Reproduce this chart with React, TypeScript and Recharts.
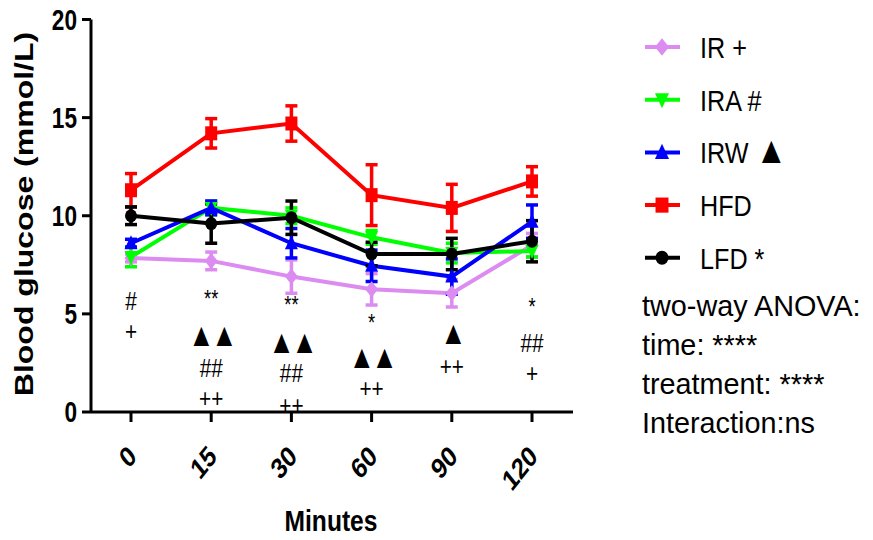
import { LineChart, Line, XAxis, YAxis, ErrorBar, Legend, ReferenceDot } from "recharts";

const MINUTES = ["0", "15", "30", "60", "90", "120"];

const IR = [7.85, 7.7, 6.9, 6.25, 6.05, 8.5];
const IR_SEM = [0.2, 0.45, 0.85, 0.8, 0.7, 0.6];
const IRA = [7.9, 10.4, 10.0, 8.9, 8.1, 8.2];
const IRA_SEM = [0.5, 0.35, 0.4, 0.35, 0.5, 0.3];
const IRW = [8.6, 10.4, 8.6, 7.45, 6.9, 9.7];
const IRW_SEM = [0.2, 0.35, 0.75, 0.8, 0.9, 0.85];
const HFD = [11.3, 14.2, 14.7, 11.05, 10.4, 11.75];
const HFD_SEM = [0.85, 0.75, 0.9, 1.55, 1.2, 0.75];
const LFD = [10.0, 9.6, 9.9, 8.05, 8.05, 8.7];
const LFD_SEM = [0.45, 1.0, 0.85, 0.6, 0.8, 1.05];

const SERIES_NAMES = ["IR +", "IRA #", "IRW ▲", "HFD", "LFD *"];
const Y_TICKS = [0, 5, 10, 15, 20];
const ANOVA_LINES = ["two-way ANOVA:", "time: ****", "treatment: ****", "Interaction:ns"];

// significance marks under each time point: [minute, mark, glucose level]
const MARKS: [string, string, number][] = [
  ["0", "#", 5.7],
  ["0", "+", 4.13],
  ["15", "**", 6.0],
  ["15", "▲▲", 3.92],
  ["15", "##", 2.24],
  ["15", "++", 0.71],
  ["30", "**", 5.7],
  ["30", "▲▲", 3.57],
  ["30", "##", 1.99],
  ["30", "++", 0.36],
  ["60", "*", 4.75],
  ["60", "▲▲", 2.8],
  ["60", "++", 1.22],
  ["90", "▲", 4.03],
  ["90", "++", 2.34],
  ["120", "*", 5.6],
  ["120", "##", 3.52],
  ["120", "+", 1.99],
];

const FONT = "'Liberation Sans', Arial, sans-serif";

const SERIES = [
  { key: "IR", name: SERIES_NAMES[0], color: "#dc8cf0", shape: "diamond" },
  { key: "IRA", name: SERIES_NAMES[1], color: "#00ff00", shape: "down" },
  { key: "IRW", name: SERIES_NAMES[2], color: "#0000ff", shape: "up" },
  { key: "HFD", name: SERIES_NAMES[3], color: "#ff0000", shape: "square" },
  { key: "LFD", name: SERIES_NAMES[4], color: "#000000", shape: "circle" },
];

const data = MINUTES.map((t, i) => ({
  t,
  IR: IR[i],
  IR_err: IR_SEM[i],
  IRA: IRA[i],
  IRA_err: IRA_SEM[i],
  IRW: IRW[i],
  IRW_err: IRW_SEM[i],
  HFD: HFD[i],
  HFD_err: HFD_SEM[i],
  LFD: LFD[i],
  LFD_err: LFD_SEM[i],
}));

function Marker({ kind, cx, cy, fill, k = 1 }: { kind: string; cx: number; cy: number; fill: string; k?: number }) {
  if (cx == null || cy == null) return null;
  const w = 6.5 * k;
  const h = 8 * k;
  if (kind === "diamond") {
    return <polygon points={`${cx},${cy - h} ${cx + w},${cy} ${cx},${cy + h} ${cx - w},${cy}`} fill={fill} />;
  }
  if (kind === "up") {
    return <polygon points={`${cx},${cy - h} ${cx + w},${cy + 6 * k} ${cx - w},${cy + 6 * k}`} fill={fill} />;
  }
  if (kind === "down") {
    return <polygon points={`${cx},${cy + h} ${cx + w},${cy - 6 * k} ${cx - w},${cy - 6 * k}`} fill={fill} />;
  }
  if (kind === "square") {
    return <rect x={cx - 6 * k} y={cy - 7 * k} width={12 * k} height={14 * k} fill={fill} />;
  }
  return <ellipse cx={cx} cy={cy} rx={6 * k} ry={6.5 * k} fill={fill} />;
}

function XTick({ x, y, payload }: any) {
  return (
    <g transform={`translate(${x + 7},${y + 34})`}>
      <text
        transform="scale(0.8,1) rotate(-45)"
        textAnchor="end"
        fontFamily={FONT}
        fontWeight="bold"
        fontSize={29}
        fill="#000"
      >
        {payload.value}
      </text>
    </g>
  );
}

function YTick({ x, y, payload }: any) {
  return (
    <g transform={`translate(${x - 3},${y})`}>
      <text
        transform="scale(0.78,1)"
        textAnchor="end"
        dy="0.36em"
        fontFamily={FONT}
        fontWeight="bold"
        fontSize={29}
        fill="#000"
      >
        {payload.value}
      </text>
    </g>
  );
}

function YLabel() {
  return (
    <text
      transform="translate(24,214) scale(0.8,1) rotate(-90)"
      textAnchor="middle"
      dy="0.36em"
      fontFamily={FONT}
      fontWeight="bold"
      fontSize={32}
      fill="#000"
    >
      Blood glucose (mmol/L)
    </text>
  );
}

function XLabel() {
  return (
    <text
      transform="translate(331,531) scale(0.82,1)"
      textAnchor="middle"
      fontFamily={FONT}
      fontWeight="bold"
      fontSize={30}
      fill="#000"
    >
      Minutes
    </text>
  );
}

function markText(mark: string) {
  if (mark.includes("*")) return { size: 23, dy: "0.55em", spacing: 0 };
  if (mark.includes("▲")) return { size: 33, dy: "0.33em", spacing: -4 };
  return { size: 26, dy: "0.36em", spacing: 0 };
}

function LegendLabel({ name }: { name: string }) {
  // the triangle in the legend is drawn larger than the letters
  const parts = name.split("▲");
  if (parts.length === 1) return <>{name}</>;
  return (
    <>
      {parts[0]}
      <tspan fontSize={38}>▲</tspan>
    </>
  );
}

function LegendBox() {
  return (
    <svg width={243} height={430} style={{ display: "block" }}>
      {SERIES.map((s, i) => {
        const cy = 27 + i * 52.7;
        return (
          <g key={s.key}>
            <line x1={15} x2={50} y1={cy} y2={cy} stroke={s.color} strokeWidth={4} />
            <Marker kind={s.shape} cx={32} cy={cy} fill={s.color} k={1.08} />
            <text
              transform={`translate(70,${cy}) scale(0.84,1)`}
              dy="0.36em"
              fontFamily={FONT}
              fontSize={30}
              fill="#000"
            >
              <LegendLabel name={s.name} />
            </text>
          </g>
        );
      })}
      {ANOVA_LINES.map((line, i) => (
        <text
          key={line}
          transform={`translate(12,${296 + i * 39}) scale(0.96,1)`}
          fontFamily={FONT}
          fontSize={30}
          fill="#000"
        >
          {line}
        </text>
      ))}
    </svg>
  );
}

export default function App() {
  return (
    <div style={{ position: "absolute", left: 0, top: 0, width: 873, height: 540, background: "#fff" }}>
      <LineChart width={873} height={540} data={data} margin={{ top: 19.5, right: 300, bottom: 0, left: 0 }}>
        <XAxis
          dataKey="t"
          type="category"
          padding={{ left: 40, right: 41 }}
          axisLine={{ stroke: "#000", strokeWidth: 3 }}
          tickLine={{ stroke: "#000", strokeWidth: 3 }}
          tickSize={10}
          height={128}
          tick={<XTick />}
          interval={0}
          label={<XLabel />}
        />
        <YAxis
          domain={[0, 20]}
          ticks={Y_TICKS}
          width={91}
          axisLine={{ stroke: "#000", strokeWidth: 3 }}
          tickLine={{ stroke: "#000", strokeWidth: 3 }}
          tickSize={9}
          tick={<YTick />}
          label={<YLabel />}
        />
        {SERIES.map((s) => (
          <Line
            key={s.key}
            dataKey={s.key}
            name={s.name}
            stroke={s.color}
            strokeWidth={4}
            isAnimationActive={false}
            activeDot={false}
            dot={(p: any) => <Marker key={`${s.key}-${p.index}`} kind={s.shape} cx={p.cx} cy={p.cy} fill={s.color} />}
          >
            <ErrorBar
              dataKey={`${s.key}_err`}
              direction="y"
              width={6}
              stroke={s.color}
              strokeWidth={3.5}
              isAnimationActive={false}
            />
          </Line>
        ))}
        {MARKS.map(([t, mark, level], i) => {
          const st = markText(mark);
          return (
            <ReferenceDot
              key={i}
              x={t}
              y={level}
              r={0}
              shape={(p: any) => (
                <g transform={`translate(${p.cx},${p.cy})`}>
                  <text
                    transform="scale(0.8,1)"
                    textAnchor="middle"
                    dy={st.dy}
                    letterSpacing={st.spacing}
                    fontFamily={FONT}
                    fontSize={st.size}
                    fill="#000"
                  >
                    {mark}
                  </text>
                </g>
              )}
            />
          );
        })}
        <Legend
          layout="vertical"
          align="center"
          verticalAlign="middle"
          wrapperStyle={{ left: 630, top: 20, width: 243, height: 430 }}
          content={() => <LegendBox />}
        />
      </LineChart>
    </div>
  );
}
